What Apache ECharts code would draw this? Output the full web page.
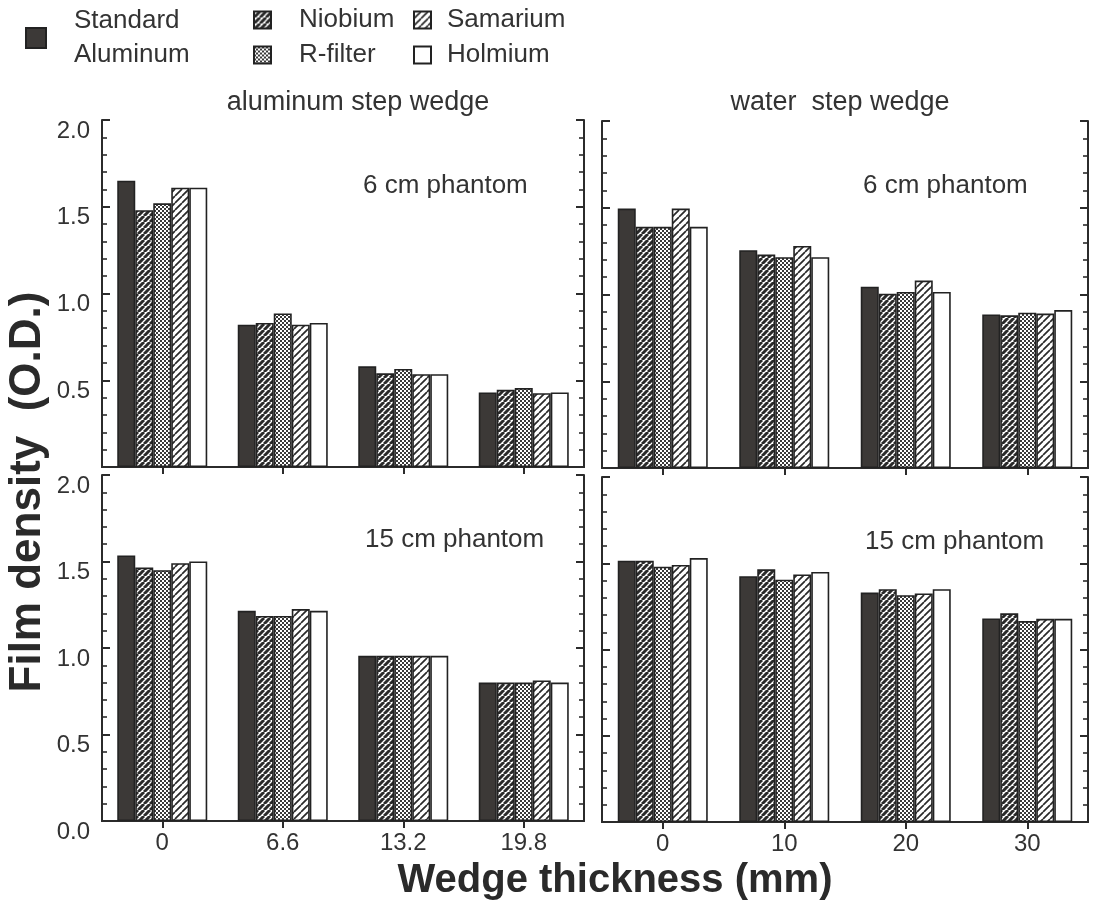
<!DOCTYPE html>
<html>
<head>
<meta charset="utf-8">
<script src="https://cdn.jsdelivr.net/npm/echarts@6/dist/echarts.min.js"></script>
<style>
  html, body { margin: 0; padding: 0; background: #ffffff; }
  #chart { width: 1096px; height: 905px; }
</style>
</head>
<body>
<div id="chart"></div>
<script>
// Filters compared (series order within each wedge-step group)
const filters = ['Standard Aluminum', 'Niobium', 'R-filter', 'Samarium', 'Holmium'];

// Wedge thickness steps (mm)
const aluminumSteps = ['0', '6.6', '13.2', '19.8'];
const waterSteps = ['0', '10', '20', '30'];

// Film density (O.D.) — one row per filter, one column per wedge step
const aluminum6cm = [
  [1.65, 0.82, 0.58, 0.43],
  [1.48, 0.83, 0.54, 0.445],
  [1.52, 0.885, 0.565, 0.455],
  [1.61, 0.82, 0.535, 0.425],
  [1.61, 0.83, 0.535, 0.43]
];
const water6cm = [
  [1.495, 1.255, 1.045, 0.885],
  [1.39, 1.23, 1.005, 0.88],
  [1.39, 1.215, 1.015, 0.895],
  [1.495, 1.28, 1.08, 0.89],
  [1.39, 1.215, 1.015, 0.91]
];
const aluminum15cm = [
  [1.535, 1.215, 0.955, 0.80],
  [1.465, 1.185, 0.955, 0.80],
  [1.45, 1.185, 0.955, 0.80],
  [1.49, 1.225, 0.955, 0.812],
  [1.50, 1.215, 0.955, 0.80]
];
const water15cm = [
  [1.515, 1.425, 1.33, 1.18],
  [1.515, 1.465, 1.35, 1.21],
  [1.48, 1.405, 1.315, 1.165],
  [1.49, 1.435, 1.325, 1.178],
  [1.53, 1.45, 1.35, 1.178]
];

// Film density axis ticks
const densityMin = 0;
const densityMax = 2.0;
const densityStep = 0.5;

const FONT = '"Liberation Sans", Arial, Helvetica, sans-serif';
const INK = '#2b2b2b';
const TEXT = '#333333';

// ---- fill patterns for the filter bars ----
function hatch(period, lineWidth, ink) {
  const c = document.createElement('canvas');
  c.width = period; c.height = period;
  const g = c.getContext('2d');
  g.fillStyle = '#ffffff';
  g.fillRect(0, 0, period, period);
  g.strokeStyle = ink;
  g.lineWidth = lineWidth;
  g.beginPath();
  for (const o of [-period, 0, period]) {
    g.moveTo(o, period);
    g.lineTo(o + period, 0);
  }
  g.stroke();
  return { image: c, repeat: 'repeat' };
}
function stipple(cell, ink) {
  const c = document.createElement('canvas');
  c.width = cell * 2; c.height = cell * 2;
  const g = c.getContext('2d');
  g.fillStyle = '#ffffff';
  g.fillRect(0, 0, cell * 2, cell * 2);
  g.fillStyle = ink;
  g.fillRect(0, 0, cell, cell);
  g.fillRect(cell, cell, cell, cell);
  return { image: c, repeat: 'repeat' };
}

const fills = [
  '#3c3937',                 // Standard Aluminum: solid
  hatch(6, 3.0, '#2a2a2a'),  // Niobium: dense hatch
  stipple(2, '#3a3a3a'),     // R-filter: stipple
  hatch(7, 1.7, '#2a2a2a'),  // Samarium: light hatch
  '#ffffff'                  // Holmium: open
];

// ---- panel layout ----
const panels = [
  { grid: { left: 102, top: 120, width: 482, height: 347 }, steps: aluminumSteps, values: aluminum6cm, yLabels: true, xLabels: false, hideZero: true },
  { grid: { left: 602, top: 121, width: 486, height: 347 }, steps: waterSteps, values: water6cm, yLabels: false, xLabels: false, hideZero: true },
  { grid: { left: 102, top: 475, width: 482, height: 346 }, steps: aluminumSteps, values: aluminum15cm, yLabels: true, xLabels: true, hideZero: false },
  { grid: { left: 602, top: 477, width: 486, height: 345 }, steps: waterSteps, values: water15cm, yLabels: false, xLabels: true, hideZero: false }
];

const frameLine = { show: true, lineStyle: { color: INK, width: 2 } };

const grid = [], xAxis = [], yAxis = [], series = [];
panels.forEach((p, i) => {
  grid.push(Object.assign({ show: false }, p.grid));
  // bottom (data) and top (tick-only) category axes
  xAxis.push({
    type: 'category', gridIndex: i, position: 'bottom', data: p.steps,
    axisLine: frameLine,
    axisTick: { show: true, inside: true, alignWithLabel: true, length: 7, lineStyle: { color: INK, width: 2 } },
    axisLabel: { show: p.xLabels, color: TEXT, fontFamily: FONT, fontSize: 24, margin: 10 },
    splitLine: { show: false }
  });
  xAxis.push({
    type: 'category', gridIndex: i, position: 'top', data: p.steps,
    axisLine: frameLine,
    axisTick: { show: true, inside: true, alignWithLabel: true, length: 7, lineStyle: { color: INK, width: 2 } },
    axisLabel: { show: false },
    splitLine: { show: false }
  });
  // left (data) and right (tick-only) density axes
  const yBase = {
    type: 'value', gridIndex: i, min: densityMin, max: densityMax, interval: densityStep,
    axisLine: frameLine,
    axisTick: { show: true, inside: true, length: 8, lineStyle: { color: INK, width: 2 } },
    minorTick: { show: true, splitNumber: 5, length: 5, lineStyle: { color: INK, width: 1.6 } },
    splitLine: { show: false },
    minorSplitLine: { show: false }
  };
  yAxis.push(Object.assign({}, yBase, {
    position: 'left',
    axisLabel: {
      show: p.yLabels, color: TEXT, fontFamily: FONT, fontSize: 24, margin: 12,
      verticalAlign: 'top', lineHeight: 22,
      formatter: v => (p.hideZero && v === 0) ? '' : v.toFixed(1)
    }
  }));
  yAxis.push(Object.assign({}, yBase, { position: 'right', axisLabel: { show: false } }));

  filters.forEach((name, f) => {
    series.push({
      type: 'bar', name: name,
      xAxisIndex: i * 2, yAxisIndex: i * 2,
      data: p.values[f],
      barWidth: 18, barGap: '0%',
      itemStyle: { color: fills[f], borderColor: '#222222', borderWidth: 1.6 },
      silent: true
    });
  });
});

const legendText = { color: TEXT, fontFamily: FONT, fontSize: 26 };

const option = {
  backgroundColor: '#ffffff',
  animation: false,
  grid, xAxis, yAxis, series,
  legend: [
    {
      data: ['Standard Aluminum'], left: 25, top: 4, padding: 0,
      icon: 'rect', itemWidth: 20, itemHeight: 20, selectedMode: false,
      formatter: n => n.replace(' ', '\n'),
      textStyle: Object.assign({ lineHeight: 34, padding: [0, 0, 0, 23] }, legendText)
    },
    {
      data: ['Niobium', 'R-filter'], orient: 'vertical', left: 253, top: 5, padding: 0,
      icon: 'rect', itemWidth: 17, itemHeight: 17, itemGap: 5, selectedMode: false,
      textStyle: Object.assign({ lineHeight: 30, padding: [0, 0, 0, 23] }, legendText)
    },
    {
      data: ['Samarium', 'Holmium'], orient: 'vertical', left: 413, top: 5, padding: 0,
      icon: 'rect', itemWidth: 17, itemHeight: 17, itemGap: 5, selectedMode: false,
      textStyle: Object.assign({ lineHeight: 30, padding: [0, 0, 0, 11] }, legendText)
    }
  ],
  graphic: [
    { type: 'text', x: 358, y: 103, style: { text: 'aluminum step wedge', fill: TEXT, font: '27px ' + FONT, align: 'center', verticalAlign: 'middle' } },
    { type: 'text', x: 840, y: 103, style: { text: 'water  step wedge', fill: TEXT, font: '27px ' + FONT, align: 'center', verticalAlign: 'middle' } },
    { type: 'text', x: 363, y: 186, style: { text: '6 cm phantom', fill: TEXT, font: '26px ' + FONT, verticalAlign: 'middle' } },
    { type: 'text', x: 863, y: 186, style: { text: '6 cm phantom', fill: TEXT, font: '26px ' + FONT, verticalAlign: 'middle' } },
    { type: 'text', x: 365, y: 540, style: { text: '15 cm phantom', fill: TEXT, font: '26px ' + FONT, verticalAlign: 'middle' } },
    { type: 'text', x: 865, y: 542, style: { text: '15 cm phantom', fill: TEXT, font: '26px ' + FONT, verticalAlign: 'middle' } },
    { type: 'text', x: 28, y: 492, rotation: Math.PI / 2, style: { text: 'Film density  (O.D.)', fill: '#2a2a2a', font: 'bold 44px ' + FONT, align: 'center', verticalAlign: 'middle' } },
    { type: 'text', x: 615, y: 881, style: { text: 'Wedge thickness (mm)', fill: '#2a2a2a', font: 'bold 40px ' + FONT, align: 'center', verticalAlign: 'middle' } }
  ]
};

const chart = echarts.init(document.getElementById('chart'), null, { renderer: 'canvas' });
chart.setOption(option);
</script>
</body>
</html>
